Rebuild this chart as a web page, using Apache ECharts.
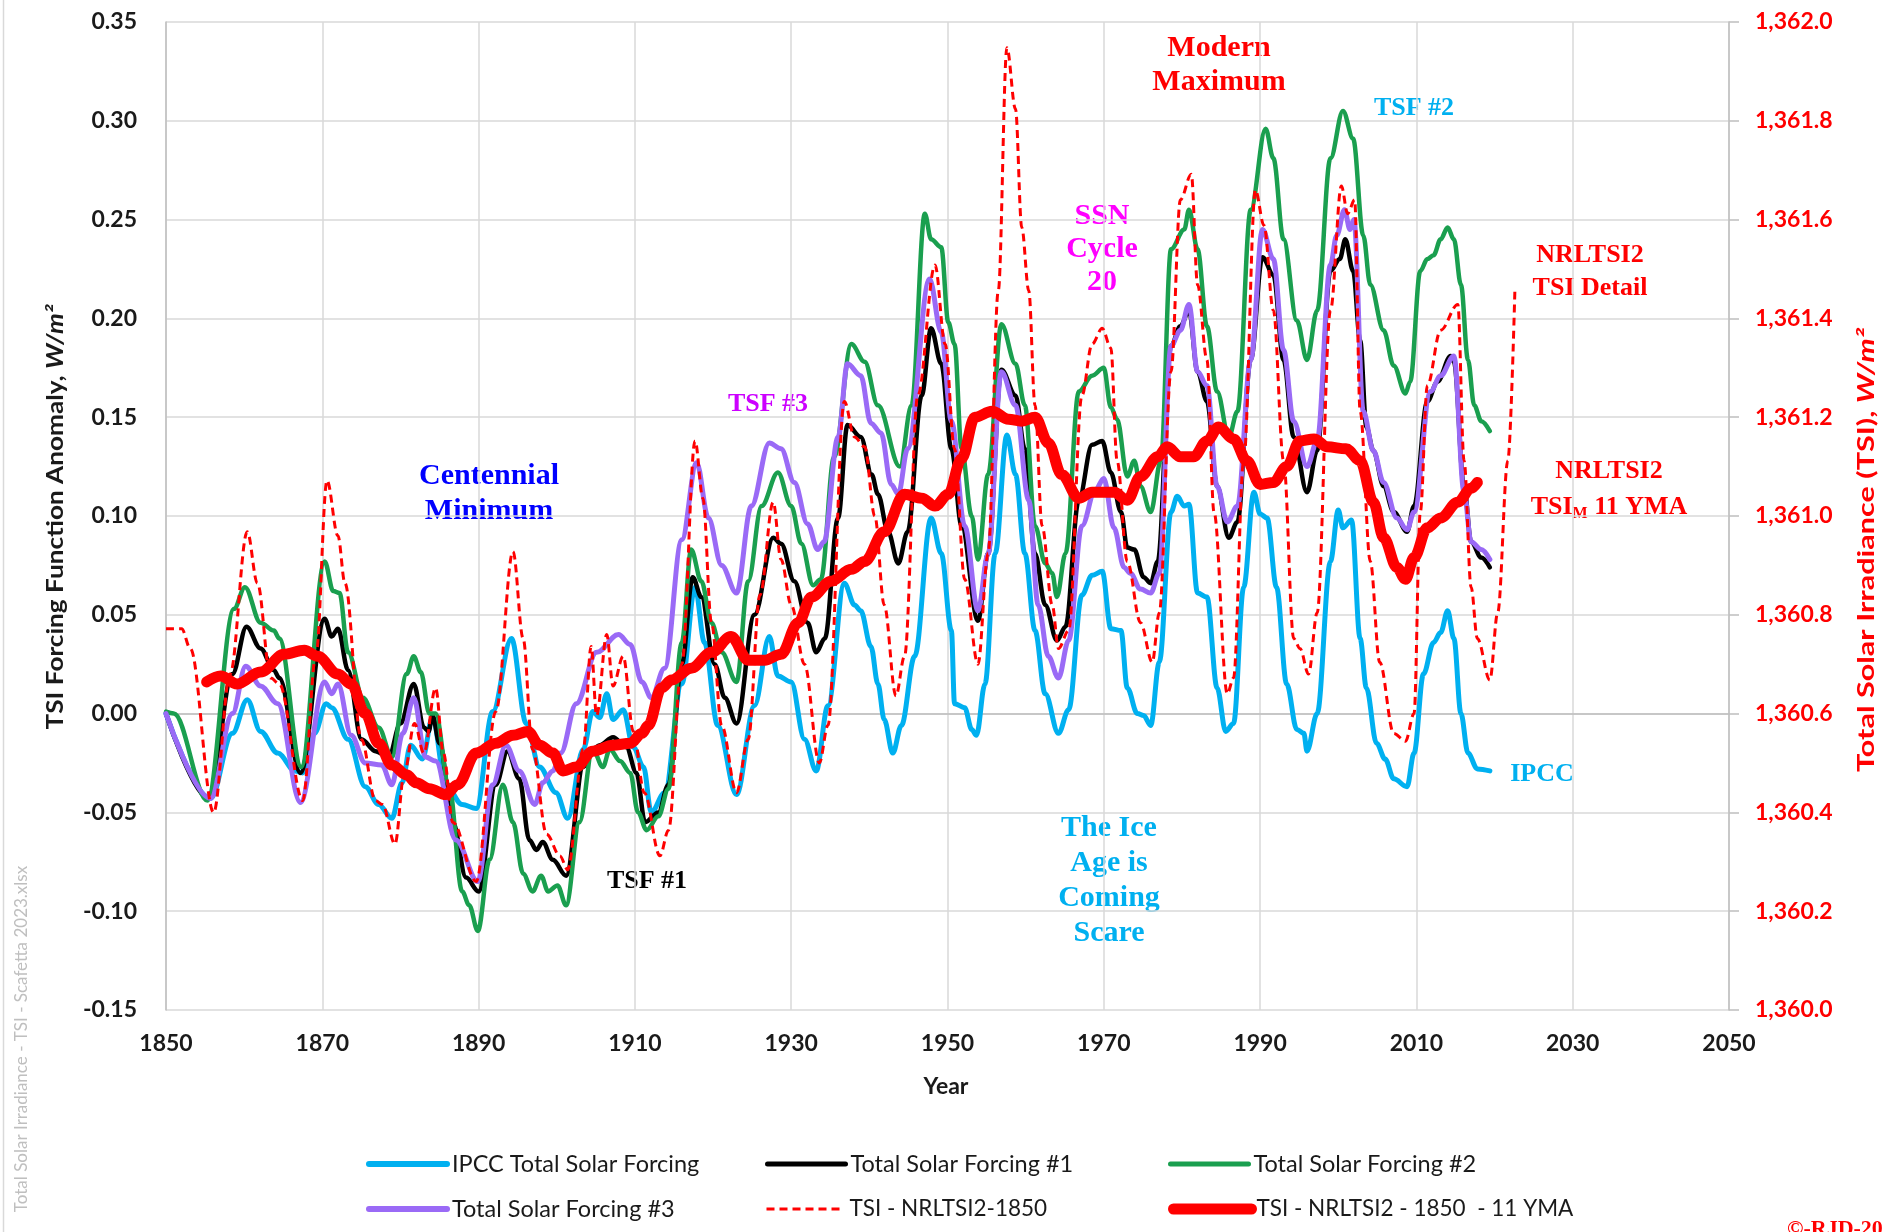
<!DOCTYPE html>
<html><head><meta charset="utf-8">
<script src="https://cdn.jsdelivr.net/npm/echarts@6/dist/echarts.min.js"></script>
<style>html,body{margin:0;padding:0;background:#fff;}#c{width:1883px;height:1232px;}</style>
</head><body><div id="c"></div>
<script>
// ---- data: [year, value] ----
const ipccTSF = [[1850,0],[1855.7,-0.043],[1858.5,-0.01],[1860.4,0.007],[1862.1,-0.009],[1864.3,-0.02],[1866.5,-0.029],[1867.5,-0.03],[1869,-0.01],[1870.5,0.005],[1871.2,0.003],[1873.3,-0.013],[1875.5,-0.037],[1877.2,-0.046],[1878.9,-0.053],[1880.2,-0.035],[1881.3,-0.016],[1882.8,-0.023],[1884.1,-0.002],[1885.8,-0.036],[1887.9,-0.046],[1889.7,-0.048],[1891.8,0.001],[1894.2,0.038],[1896.1,-0.005],[1897.8,-0.027],[1899.9,-0.04],[1901.4,-0.053],[1903.4,-0.018],[1904.6,0.001],[1905.5,-0.002],[1906.4,0.01],[1907.2,-0.003],[1908.5,0.002],[1909.8,-0.017],[1911.1,-0.027],[1912.1,-0.05],[1913.8,-0.04],[1916,0.015],[1917.7,0.064],[1918.9,0.036],[1920.6,-0.006],[1923,-0.041],[1925.3,0.004],[1927.2,0.039],[1928.3,0.019],[1930,0.016],[1931.7,-0.013],[1933.2,-0.029],[1934.7,0.004],[1936.8,0.066],[1938.1,0.055],[1938.9,0.052],[1940.2,0.034],[1941.1,0.015],[1941.9,-0.003],[1943,-0.02],[1944.1,-0.006],[1945.8,0.029],[1947.9,0.099],[1949.2,0.081],[1950.5,0.042],[1950.9,0.005],[1952.2,0.003],[1953.1,-0.008],[1953.7,-0.011],[1954.8,0.015],[1956.1,0.081],[1957.6,0.141],[1958.7,0.121],[1959.9,0.081],[1961.2,0.042],[1962.5,0.01],[1964.2,-0.01],[1965.5,0.002],[1967.2,0.06],[1968.5,0.07],[1969.8,0.072],[1970.9,0.043],[1972.2,0.042],[1973,0.013],[1974.3,0],[1975.1,-0.001],[1976,-0.006],[1977.1,0.026],[1978.6,0.102],[1979.4,0.11],[1980.3,0.105],[1980.9,0.106],[1982,0.061],[1983.2,0.059],[1984.5,0.013],[1985.6,-0.009],[1986.6,-0.005],[1987.9,0.064],[1989.2,0.112],[1990,0.101],[1990.9,0.099],[1992.1,0.064],[1993.4,0.015],[1994.7,-0.008],[1995.6,-0.01],[1996,-0.019],[1997.3,0],[1999,0.077],[2000,0.103],[2000.6,0.094],[2001.7,0.098],[2002.8,0.038],[2003.6,0.013],[2004.9,-0.015],[2006,-0.023],[2007.1,-0.033],[2008.8,-0.037],[2009.7,-0.02],[2010.9,0.02],[2012.2,0.036],[2013.1,0.041],[2014,0.052],[2014.8,0.038],[2015.7,0],[2016.6,-0.02],[2017.8,-0.028],[2019.4,-0.029]];

const tsf1 = [[1850,0],[1855.5,-0.043],[1858.5,0.02],[1860.3,0.044],[1862.1,0.033],[1863.8,0.022],[1864.5,0.018],[1867.2,-0.03],[1870.3,0.048],[1871.2,0.039],[1872,0.043],[1873.3,0.022],[1875,-0.013],[1876.8,-0.019],[1878.5,-0.022],[1880,-0.005],[1881.7,0.015],[1883,-0.007],[1883.6,-0.009],[1884.1,-0.001],[1885,-0.015],[1886.7,-0.055],[1888.4,-0.083],[1890,-0.09],[1892.2,-0.036],[1893.7,-0.019],[1895.2,-0.033],[1896.5,-0.064],[1897.4,-0.069],[1898.2,-0.065],[1899.5,-0.074],[1901.2,-0.082],[1903.4,-0.027],[1904.6,-0.018],[1905.5,-0.016],[1907.2,-0.012],[1908.9,-0.017],[1910.2,-0.03],[1911.3,-0.055],[1913,-0.05],[1914.3,-0.036],[1916,0.025],[1917.4,0.069],[1918.5,0.059],[1920.2,0.025],[1921.5,0.008],[1923,-0.005],[1925.3,0.05],[1927.7,0.089],[1928.7,0.086],[1930.4,0.067],[1932.1,0.046],[1933.2,0.031],[1934.3,0.038],[1936,0.099],[1937.2,0.146],[1938.9,0.14],[1940.3,0.121],[1941.1,0.111],[1942.4,0.092],[1943.7,0.076],[1944.9,0.092],[1946.7,0.161],[1947.9,0.195],[1949.2,0.177],[1950.5,0.134],[1951.8,0.095],[1953.9,0.047],[1955.2,0.081],[1956.9,0.174],[1958.7,0.161],[1959.9,0.134],[1961.2,0.081],[1962.5,0.055],[1964,0.037],[1965.1,0.044],[1966.8,0.108],[1968.5,0.136],[1969.8,0.138],[1970.9,0.122],[1972.2,0.102],[1973,0.084],[1973.9,0.083],[1975.1,0.069],[1976,0.066],[1976.9,0.077],[1978.6,0.186],[1979.8,0.196],[1980.9,0.204],[1982,0.173],[1983.2,0.158],[1984.5,0.115],[1986,0.089],[1987.1,0.097],[1988.8,0.179],[1990.3,0.231],[1991.7,0.222],[1993,0.179],[1994.3,0.14],[1996,0.112],[1997.3,0.133],[1999,0.224],[2000.2,0.23],[2000.9,0.24],[2001.9,0.224],[2002.8,0.189],[2003.6,0.145],[2004.5,0.133],[2005.8,0.115],[2007.1,0.102],[2008.8,0.092],[2009.7,0.105],[2011.4,0.158],[2012.7,0.168],[2014.4,0.181],[2014.8,0.178],[2016.1,0.115],[2017,0.087],[2018.3,0.079],[2019.4,0.074]];

const tsf2 = [[1850,0.001],[1851,0],[1855.3,-0.044],[1858.7,0.053],[1860.1,0.064],[1862.1,0.046],[1863.8,0.042],[1864.5,0.038],[1867.3,-0.027],[1870.3,0.077],[1871.4,0.062],[1872.2,0.061],[1873.3,0.031],[1875.2,0.008],[1877.2,-0.007],[1878.9,-0.022],[1880.8,0.02],[1881.7,0.029],[1882.6,0.021],[1883.7,0],[1884.5,0],[1886.2,-0.036],[1887.9,-0.09],[1888.8,-0.097],[1889.9,-0.11],[1891.4,-0.074],[1893.1,-0.036],[1894.4,-0.055],[1895.7,-0.081],[1896.9,-0.09],[1898,-0.082],[1898.9,-0.09],[1900.1,-0.087],[1901.2,-0.097],[1902.9,-0.055],[1904.6,-0.018],[1905.9,-0.027],[1906.8,-0.018],[1908.1,-0.024],[1909.4,-0.03],[1910.4,-0.05],[1911.5,-0.059],[1913,-0.052],[1914.3,-0.038],[1916,0.036],[1917.2,0.083],[1918.5,0.067],[1919.8,0.046],[1921.1,0.031],[1923,0.016],[1924.5,0.067],[1926.2,0.105],[1928.3,0.122],[1930,0.105],[1931.3,0.086],[1932.8,0.065],[1933.8,0.068],[1935.5,0.13],[1937.7,0.187],[1939.4,0.178],[1941.1,0.156],[1943.9,0.125],[1945.4,0.156],[1947.1,0.253],[1947.9,0.24],[1949.2,0.236],[1950.1,0.198],[1950.9,0.187],[1951.8,0.134],[1953.1,0.1],[1953.9,0.078],[1955.2,0.121],[1956.9,0.197],[1958.7,0.177],[1959.9,0.156],[1961.2,0.095],[1962.5,0.076],[1963.4,0.071],[1964,0.059],[1965.1,0.081],[1966.8,0.163],[1968.5,0.171],[1970,0.175],[1970.9,0.155],[1971.7,0.149],[1973,0.12],[1973.9,0.128],[1974.7,0.115],[1976,0.102],[1977.3,0.128],[1978.6,0.235],[1980.3,0.245],[1980.9,0.255],[1982,0.235],[1983.2,0.196],[1984.5,0.163],[1986,0.14],[1987.1,0.153],[1988.8,0.255],[1990.7,0.296],[1991.7,0.281],[1993,0.24],[1994.7,0.199],[1996,0.179],[1997.3,0.204],[1999,0.281],[2000.6,0.305],[2001.9,0.291],[2003.2,0.242],[2004.1,0.217],[2005.8,0.194],[2007.1,0.176],[2008.6,0.162],[2009.2,0.168],[2010.5,0.224],[2011.4,0.23],[2012.2,0.232],[2013.1,0.24],[2014,0.246],[2014.8,0.24],[2015.7,0.217],[2016.6,0.179],[2017.4,0.156],[2018.3,0.148],[2019.4,0.143]];

const tsf3 = [[1850,0],[1855.7,-0.043],[1858.5,0],[1860.2,0.024],[1862.1,0.014],[1864.3,0.005],[1867.2,-0.045],[1870.3,0.016],[1871.2,0.01],[1872,0.015],[1873.7,-0.011],[1875.5,-0.025],[1877.6,-0.026],[1878.9,-0.036],[1880.3,-0.01],[1881.7,0.008],[1883.2,-0.022],[1884.5,-0.024],[1887.1,-0.064],[1889.9,-0.085],[1891.8,-0.036],[1893.5,-0.016],[1895.2,-0.029],[1897.2,-0.046],[1898.2,-0.035],[1899.5,-0.029],[1900.5,-0.02],[1902.5,0.005],[1905.1,0.031],[1907.9,0.04],[1909.4,0.035],[1910.9,0.016],[1912.1,0.008],[1913.8,0.023],[1916,0.088],[1917.9,0.127],[1919.4,0.099],[1921.1,0.075],[1923,0.061],[1924.9,0.105],[1927.2,0.137],[1928.7,0.134],[1930.4,0.117],[1932.1,0.096],[1933.4,0.083],[1934.2,0.087],[1936,0.14],[1937.2,0.177],[1938.9,0.171],[1940.2,0.147],[1941.5,0.142],[1942.8,0.116],[1943.7,0.111],[1944.9,0.134],[1947.7,0.22],[1949.2,0.193],[1950.5,0.148],[1952.2,0.095],[1953.9,0.052],[1955.2,0.081],[1956.9,0.173],[1958.7,0.156],[1960.4,0.108],[1961.6,0.055],[1962.9,0.029],[1964.2,0.018],[1965.5,0.037],[1967.2,0.095],[1968.9,0.113],[1970,0.119],[1971.3,0.094],[1972.6,0.074],[1973.4,0.071],[1974.7,0.063],[1976,0.061],[1977.1,0.071],[1978.6,0.186],[1979.8,0.194],[1980.9,0.207],[1982,0.173],[1983.2,0.166],[1984.5,0.115],[1985.8,0.097],[1987.1,0.105],[1988.8,0.179],[1990.3,0.245],[1991.7,0.23],[1993,0.184],[1994.3,0.148],[1996,0.125],[1997.3,0.138],[1999,0.227],[1999.8,0.242],[2000.8,0.255],[2001.5,0.245],[2002,0.25],[2003.2,0.153],[2004.5,0.133],[2005.8,0.117],[2007.5,0.099],[2008.8,0.093],[2009.7,0.102],[2011.8,0.163],[2013.1,0.171],[2014.8,0.181],[2016.1,0.112],[2017,0.087],[2018.3,0.083],[2019.4,0.078]];

const tsiDetail = [[1850,1360.772],[1852,1360.772],[1853.1,1360.732],[1856.1,1360.4],[1858.2,1360.68],[1860.4,1360.968],[1861.7,1360.864],[1863.4,1360.672],[1864.5,1360.66],[1867.5,1360.424],[1869.2,1360.72],[1870.6,1361.072],[1872,1360.96],[1872.9,1360.864],[1875,1360.548],[1876.8,1360.424],[1877.7,1360.416],[1879.3,1360.336],[1880.5,1360.48],[1881.8,1360.58],[1883,1360.52],[1884.5,1360.652],[1885.5,1360.52],[1886.7,1360.38],[1889.7,1360.26],[1892.2,1360.604],[1894.4,1360.928],[1895.7,1360.752],[1896.9,1360.528],[1898.7,1360.356],[1900.4,1360.312],[1901.4,1360.284],[1903.4,1360.528],[1904.4,1360.736],[1905.1,1360.596],[1906.4,1360.76],[1907.2,1360.656],[1908.5,1360.716],[1909.8,1360.564],[1911.2,1360.44],[1913.2,1360.312],[1914.3,1360.364],[1916,1360.7],[1917.7,1361.152],[1918.7,1361.036],[1919.8,1360.784],[1921.1,1360.576],[1923,1360.44],[1924.5,1360.548],[1926,1360.84],[1927.7,1361.028],[1928.7,1360.912],[1930,1360.82],[1931.7,1360.7],[1933.6,1360.5],[1934.7,1360.576],[1936.8,1361.232],[1938.1,1361.16],[1939.4,1361.14],[1940.7,1361],[1941.9,1360.82],[1943.4,1360.636],[1944.5,1360.716],[1946.2,1361.244],[1948.4,1361.508],[1949.7,1361.348],[1950.9,1361.136],[1952.2,1360.872],[1953.9,1360.7],[1955.2,1360.924],[1956.5,1361.456],[1957.6,1361.948],[1958.7,1361.824],[1959.5,1361.584],[1960.4,1361.456],[1961.2,1361.224],[1962.1,1360.98],[1963.4,1360.82],[1964.2,1360.732],[1965.5,1360.768],[1967.2,1361.244],[1968.5,1361.348],[1969.8,1361.38],[1970.9,1361.34],[1971.7,1361.112],[1973,1360.908],[1974.7,1360.784],[1976.2,1360.704],[1977.1,1360.804],[1978.6,1361.292],[1979.8,1361.64],[1981.2,1361.692],[1982,1361.468],[1983.2,1361.316],[1984.1,1361.008],[1985.8,1360.64],[1986.6,1360.672],[1987.9,1361.112],[1989.4,1361.66],[1990.5,1361.588],[1991.7,1361.416],[1993,1361.112],[1994.3,1360.752],[1995.1,1360.732],[1996.2,1360.68],[1997.3,1360.804],[1999,1361.416],[2000.4,1361.668],[2001.2,1361.612],[2002.1,1361.64],[2002.8,1361.212],[2004.1,1360.908],[2005.3,1360.704],[2007.1,1360.56],[2008.6,1360.544],[2009.7,1360.6],[2010.5,1361.008],[2011.4,1361.264],[2013.1,1361.376],[2015.3,1361.428],[2016.1,1361.112],[2017,1360.856],[2017.8,1360.752],[2019.4,1360.668],[2020.4,1360.804],[2021.7,1361.112],[2022.6,1361.456]];

const tsiYMA = [[1855.2,1360.664],[1857,1360.676],[1859.1,1360.66],[1862.1,1360.684],[1865.1,1360.72],[1867.7,1360.728],[1869.4,1360.716],[1872,1360.68],[1873.7,1360.66],[1875.5,1360.6],[1877.2,1360.54],[1878.9,1360.496],[1880.8,1360.476],[1882,1360.46],[1883.7,1360.448],[1885.8,1360.436],[1887.3,1360.456],[1889.7,1360.52],[1892.2,1360.54],[1894.4,1360.556],[1896.3,1360.564],[1897.8,1360.536],[1899.5,1360.52],[1900.8,1360.484],[1902.5,1360.492],[1904.6,1360.524],[1907.2,1360.536],[1909.4,1360.54],[1910.9,1360.56],[1911.7,1360.576],[1913.4,1360.652],[1914.7,1360.668],[1917.2,1360.692],[1919.8,1360.724],[1922.3,1360.756],[1924.5,1360.708],[1926.6,1360.708],[1928.7,1360.72],[1930.9,1360.784],[1932.6,1360.836],[1935.1,1360.868],[1937.7,1360.892],[1939.4,1360.908],[1941.9,1360.968],[1944.5,1361.044],[1946.7,1361.036],[1948.4,1361.02],[1950.1,1361.044],[1951.8,1361.116],[1953.5,1361.2],[1955.7,1361.212],[1957.8,1361.196],[1959.5,1361.192],[1961.2,1361.2],[1962.9,1361.148],[1964.6,1361.084],[1966.8,1361.036],[1968.5,1361.048],[1971.3,1361.048],[1973,1361.032],[1974.7,1361.08],[1976.9,1361.12],[1978.1,1361.14],[1979.8,1361.12],[1981.5,1361.12],[1983.2,1361.152],[1984.7,1361.18],[1986.6,1361.156],[1988.3,1361.112],[1990,1361.064],[1991.7,1361.068],[1993.4,1361.1],[1995.1,1361.152],[1996.9,1361.156],[1998.6,1361.14],[2001,1361.136],[2002.8,1361.112],[2004.5,1361.028],[2005.8,1360.956],[2007.5,1360.896],[2008.6,1360.872],[2009.7,1360.916],[2011.4,1360.976],[2013.1,1360.996],[2015.3,1361.028],[2017,1361.056],[2017.8,1361.068]];

const seriesNames = ['IPCC Total Solar Forcing','Total Solar Forcing #1','Total Solar Forcing #2','Total Solar Forcing #3','TSI - NRLTSI2-1850','TSI - NRLTSI2 - 1850  - 11 YMA'];

// ---- chart ----
const SANS = 'Lato, "Open Sans", sans-serif';
const SERIF = '"Liberation Serif", "Times New Roman", serif';
const chart = echarts.init(document.getElementById('c'));

function lineSeries(name, data, color, width, yIdx, extra) {
  return Object.assign({
    name, type: 'line', data, yAxisIndex: yIdx, symbol: 'none',
    smooth: 0.35, smoothMonotone: 'x',
    lineStyle: { color, width, cap: 'round', join: 'round' },
    itemStyle: { color }, animation: false
  }, extra || {});
}

function legendAt(name, left, top, lw, ltype, fs) {
  return {
    data: [name], left, top, padding: 0, itemWidth: 78, itemHeight: 14,
    selectedMode: false,
    itemStyle: { color: 'rgba(0,0,0,0)', borderWidth: 0, opacity: 0 },
    lineStyle: { width: lw, type: ltype || 'solid' },
    textStyle: { fontFamily: SANS, fontSize: fs || 23.5, color: '#1a1a1a', lineHeight: 26 }
  };
}

function txt(text, x, y, size, color, lh) {
  return { type: 'text', x, y, style: { text, fontFamily: SERIF, fontWeight: 'bold', fontSize: size, fill: color, align: 'center', verticalAlign: 'middle', lineHeight: lh || size + 4 } };
}

const option = {
  animation: false,
  backgroundColor: '#fff',
  grid: { left: 166, top: 22, width: 1563, height: 988, containLabel: false },
  xAxis: {
    type: 'value', min: 1850, max: 2050, interval: 20,
    axisLine: { show: true, lineStyle: { color: '#bfbfbf', width: 1.5 } },
    axisTick: { show: false },
    splitLine: { show: true, lineStyle: { color: '#d9d9d9', width: 1.5 } },
    axisLabel: { margin: 22, fontFamily: SANS, fontWeight: 'bold', fontSize: 23, color: '#1a1a1a', formatter: v => String(v) }
  },
  yAxis: [
    { type: 'value', min: -0.15, max: 0.35, interval: 0.05, position: 'left',
      axisLine: { show: true, lineStyle: { color: '#bfbfbf', width: 1.5 } },
      axisTick: { show: false },
      splitLine: { show: true, lineStyle: { color: '#d9d9d9', width: 1.5 } },
      axisLabel: { margin: 29, fontFamily: SANS, fontWeight: 'bold', fontSize: 23, color: '#1a1a1a', formatter: v => v.toFixed(2) } },
    { type: 'value', min: 1360, max: 1362, interval: 0.2, position: 'right',
      axisLine: { show: true, lineStyle: { color: '#bfbfbf', width: 1.5 } },
      axisTick: { show: true, inside: false, length: 10, lineStyle: { color: '#bfbfbf', width: 1.5 } },
      splitLine: { show: false },
      axisLabel: { margin: 26, fontFamily: SANS, fontWeight: 'bold', fontSize: 23, color: '#ff0000',
        formatter: v => v.toLocaleString('en-US', { minimumFractionDigits: 1, maximumFractionDigits: 1 }) } }
  ],
  legend: [
    legendAt(seriesNames[0], 366, 1151, 6),
    legendAt(seriesNames[1], 765, 1151, 5),
    legendAt(seriesNames[2], 1168, 1151, 5),
    legendAt(seriesNames[3], 366, 1196, 6),
    legendAt(seriesNames[4], 765, 1196, 3, [8, 5], 22.5),
    legendAt(seriesNames[5], 1168, 1196, 11, 'solid', 22.5)
  ],
  series: [
    lineSeries(seriesNames[0], ipccTSF, '#00b0f0', 5, 0),
    lineSeries(seriesNames[1], tsf1, '#000000', 4.5, 0),
    lineSeries(seriesNames[2], tsf2, '#1a9f4f', 4.5, 0),
    lineSeries(seriesNames[3], tsf3, '#9a6af6', 5, 0),
    lineSeries(seriesNames[4], tsiDetail, '#ff0000', 3, 1, { lineStyle: { color: '#ff0000', width: 3, type: [8, 5] } }),
    lineSeries(seriesNames[5], tsiYMA, '#ff0000', 11, 1)
  ],
  graphic: [
    { type: 'line', shape: { x1: 3.5, y1: 0, x2: 3.5, y2: 1232 }, style: { stroke: '#d9d9d9', lineWidth: 1.5 } },
    { type: 'text', x: 22, y: 1039, rotation: Math.PI / 2,
      style: { text: 'Total Solar Irradiance - TSI - Scafetta 2023.xlsx', fontFamily: SANS, fontSize: 17, fill: '#bfbfbf', align: 'center', verticalAlign: 'middle' } },
    { type: 'text', x: 56, y: 517, rotation: Math.PI / 2, scaleX: 1.19,
      style: { text: 'TSI Forcing Function Anomaly, {i|W/m²}', fontFamily: SANS, fontWeight: 'bold', fontSize: 22, fill: '#1a1a1a', align: 'center', verticalAlign: 'middle',
        rich: { i: { fontFamily: SANS, fontWeight: 'bold', fontStyle: 'italic', fontSize: 22, fill: '#1a1a1a' } } } },
    { type: 'text', x: 1867, y: 550, rotation: Math.PI / 2, scaleX: 1.39,
      style: { text: 'Total Solar Irradiance (TSI), {i|W/m²}', fontFamily: SANS, fontWeight: 'bold', fontSize: 22, fill: '#ff0000', align: 'center', verticalAlign: 'middle',
        rich: { i: { fontFamily: SANS, fontWeight: 'bold', fontStyle: 'italic', fontSize: 22, fill: '#ff0000' } } } },
    { type: 'text', x: 946, y: 1087, style: { text: 'Year', fontFamily: SANS, fontWeight: 'bold', fontSize: 23, fill: '#1a1a1a', align: 'center', verticalAlign: 'middle' } },
    txt('Modern\nMaximum', 1219, 65, 30, '#ff0000', 34),
    txt('TSF #2', 1414, 108, 26, '#00b0f0'),
    txt('SSN\nCycle\n20', 1102, 249, 30, '#ff00ff', 33),
    txt('NRLTSI2\nTSI Detail', 1590, 272, 26, '#ff0000', 33),
    txt('TSF #3', 768, 404, 26, '#cc00ff'),
    txt('Centennial\nMinimum', 489, 494, 30, '#0000ff', 35),
    { type: 'text', x: 1609, y: 489,
      style: { text: 'NRLTSI2\n{a|TSI}{s|M}{a| 11 YMA}', fontFamily: SERIF, fontWeight: 'bold', fontSize: 26, fill: '#ff0000', align: 'center', verticalAlign: 'middle', lineHeight: 36,
        rich: { a: { fontFamily: SERIF, fontWeight: 'bold', fontSize: 26, fill: '#ff0000', lineHeight: 36 },
                s: { fontFamily: SERIF, fontWeight: 'bold', fontSize: 16, fill: '#ff0000', lineHeight: 36, padding: [14, 0, 0, 0] } } } },
    txt('IPCC', 1542, 774, 26, '#00b0f0'),
    txt('The Ice\nAge is\nComing\nScare', 1109, 881, 30, '#00b0f0', 35),
    txt('TSF #1', 647, 881, 26, '#000000'),
    { type: 'text', x: 1787, y: 1218, style: { text: '©-RJD-2023', fontFamily: SERIF, fontWeight: 'bold', fontSize: 22, fill: '#ff0000', align: 'left', verticalAlign: 'top' } }
  ]
};
chart.setOption(option);
</script></body></html>
